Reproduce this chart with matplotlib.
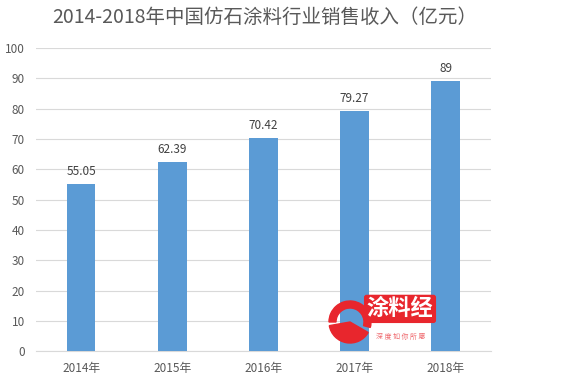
import matplotlib.pyplot as plt
from matplotlib.patches import Wedge, Rectangle

plt.rcParams['font.family'] = ['Noto Sans CJK SC', 'DejaVu Sans']

years = ['2014年', '2015年', '2016年', '2017年', '2018年']
revenue = [55.05, 62.39, 70.42, 79.27, 89]
labels = ['55.05', '62.39', '70.42', '79.27', '89']

fig = plt.figure(figsize=(5.69, 3.91), dpi=100)
ax = fig.add_axes([0.063, 0.102, 0.800, 0.775])

x = range(len(years))
bars = ax.bar(x, revenue, width=0.31, color='#5B9BD5', zorder=3)
for b, t in zip(bars, labels):
    ax.text(b.get_x() + b.get_width() / 2, b.get_height() + 2, t,
            ha='center', va='bottom', fontsize=8.5, color='#404040')

ax.set_xlim(-0.5, 4.5)
ax.set_ylim(0, 100)
ax.set_yticks(range(0, 101, 10))
ax.set_xticks(list(x))
ax.set_xticklabels(years)
ax.grid(axis='y', color='#D9D9D9', linewidth=0.8, zorder=0)
for s in ['top', 'right', 'left']:
    ax.spines[s].set_visible(False)
ax.spines['bottom'].set_color('#D9D9D9')
ax.tick_params(length=0, labelsize=8.5, labelcolor='#595959')
ax.tick_params(axis='x', pad=8)
ax.tick_params(axis='y', pad=8)

fig.text(0.466, 0.955, '2014-2018年中国仿石涂料行业销售收入（亿元）',
         ha='center', va='center', fontsize=14, color='#595959')

# watermark logo
tr = fig.dpi_scale_trans
fig.patches.append(Wedge((3.50, 0.69), 0.21, 190, 330, transform=tr,
                         color='#E8262D', zorder=5))
fig.patches.append(Wedge((3.50, 0.69), 0.21, 345, 180, width=0.07, transform=tr,
                         color='#E8262D', zorder=5))
fig.text(0.703, 0.21, '涂料经', ha='center', va='center', fontsize=16,
         fontweight='bold', color='white', zorder=6,
         bbox=dict(boxstyle='round,pad=0.12', fc='#E8262D', ec='none'))
fig.text(0.705, 0.137, '深 度 如 你 所 愿', ha='center', va='center', fontsize=5,
         color='#E8262D', alpha=0.7, zorder=6)

fig.savefig('out.png', dpi=100, facecolor='white')
